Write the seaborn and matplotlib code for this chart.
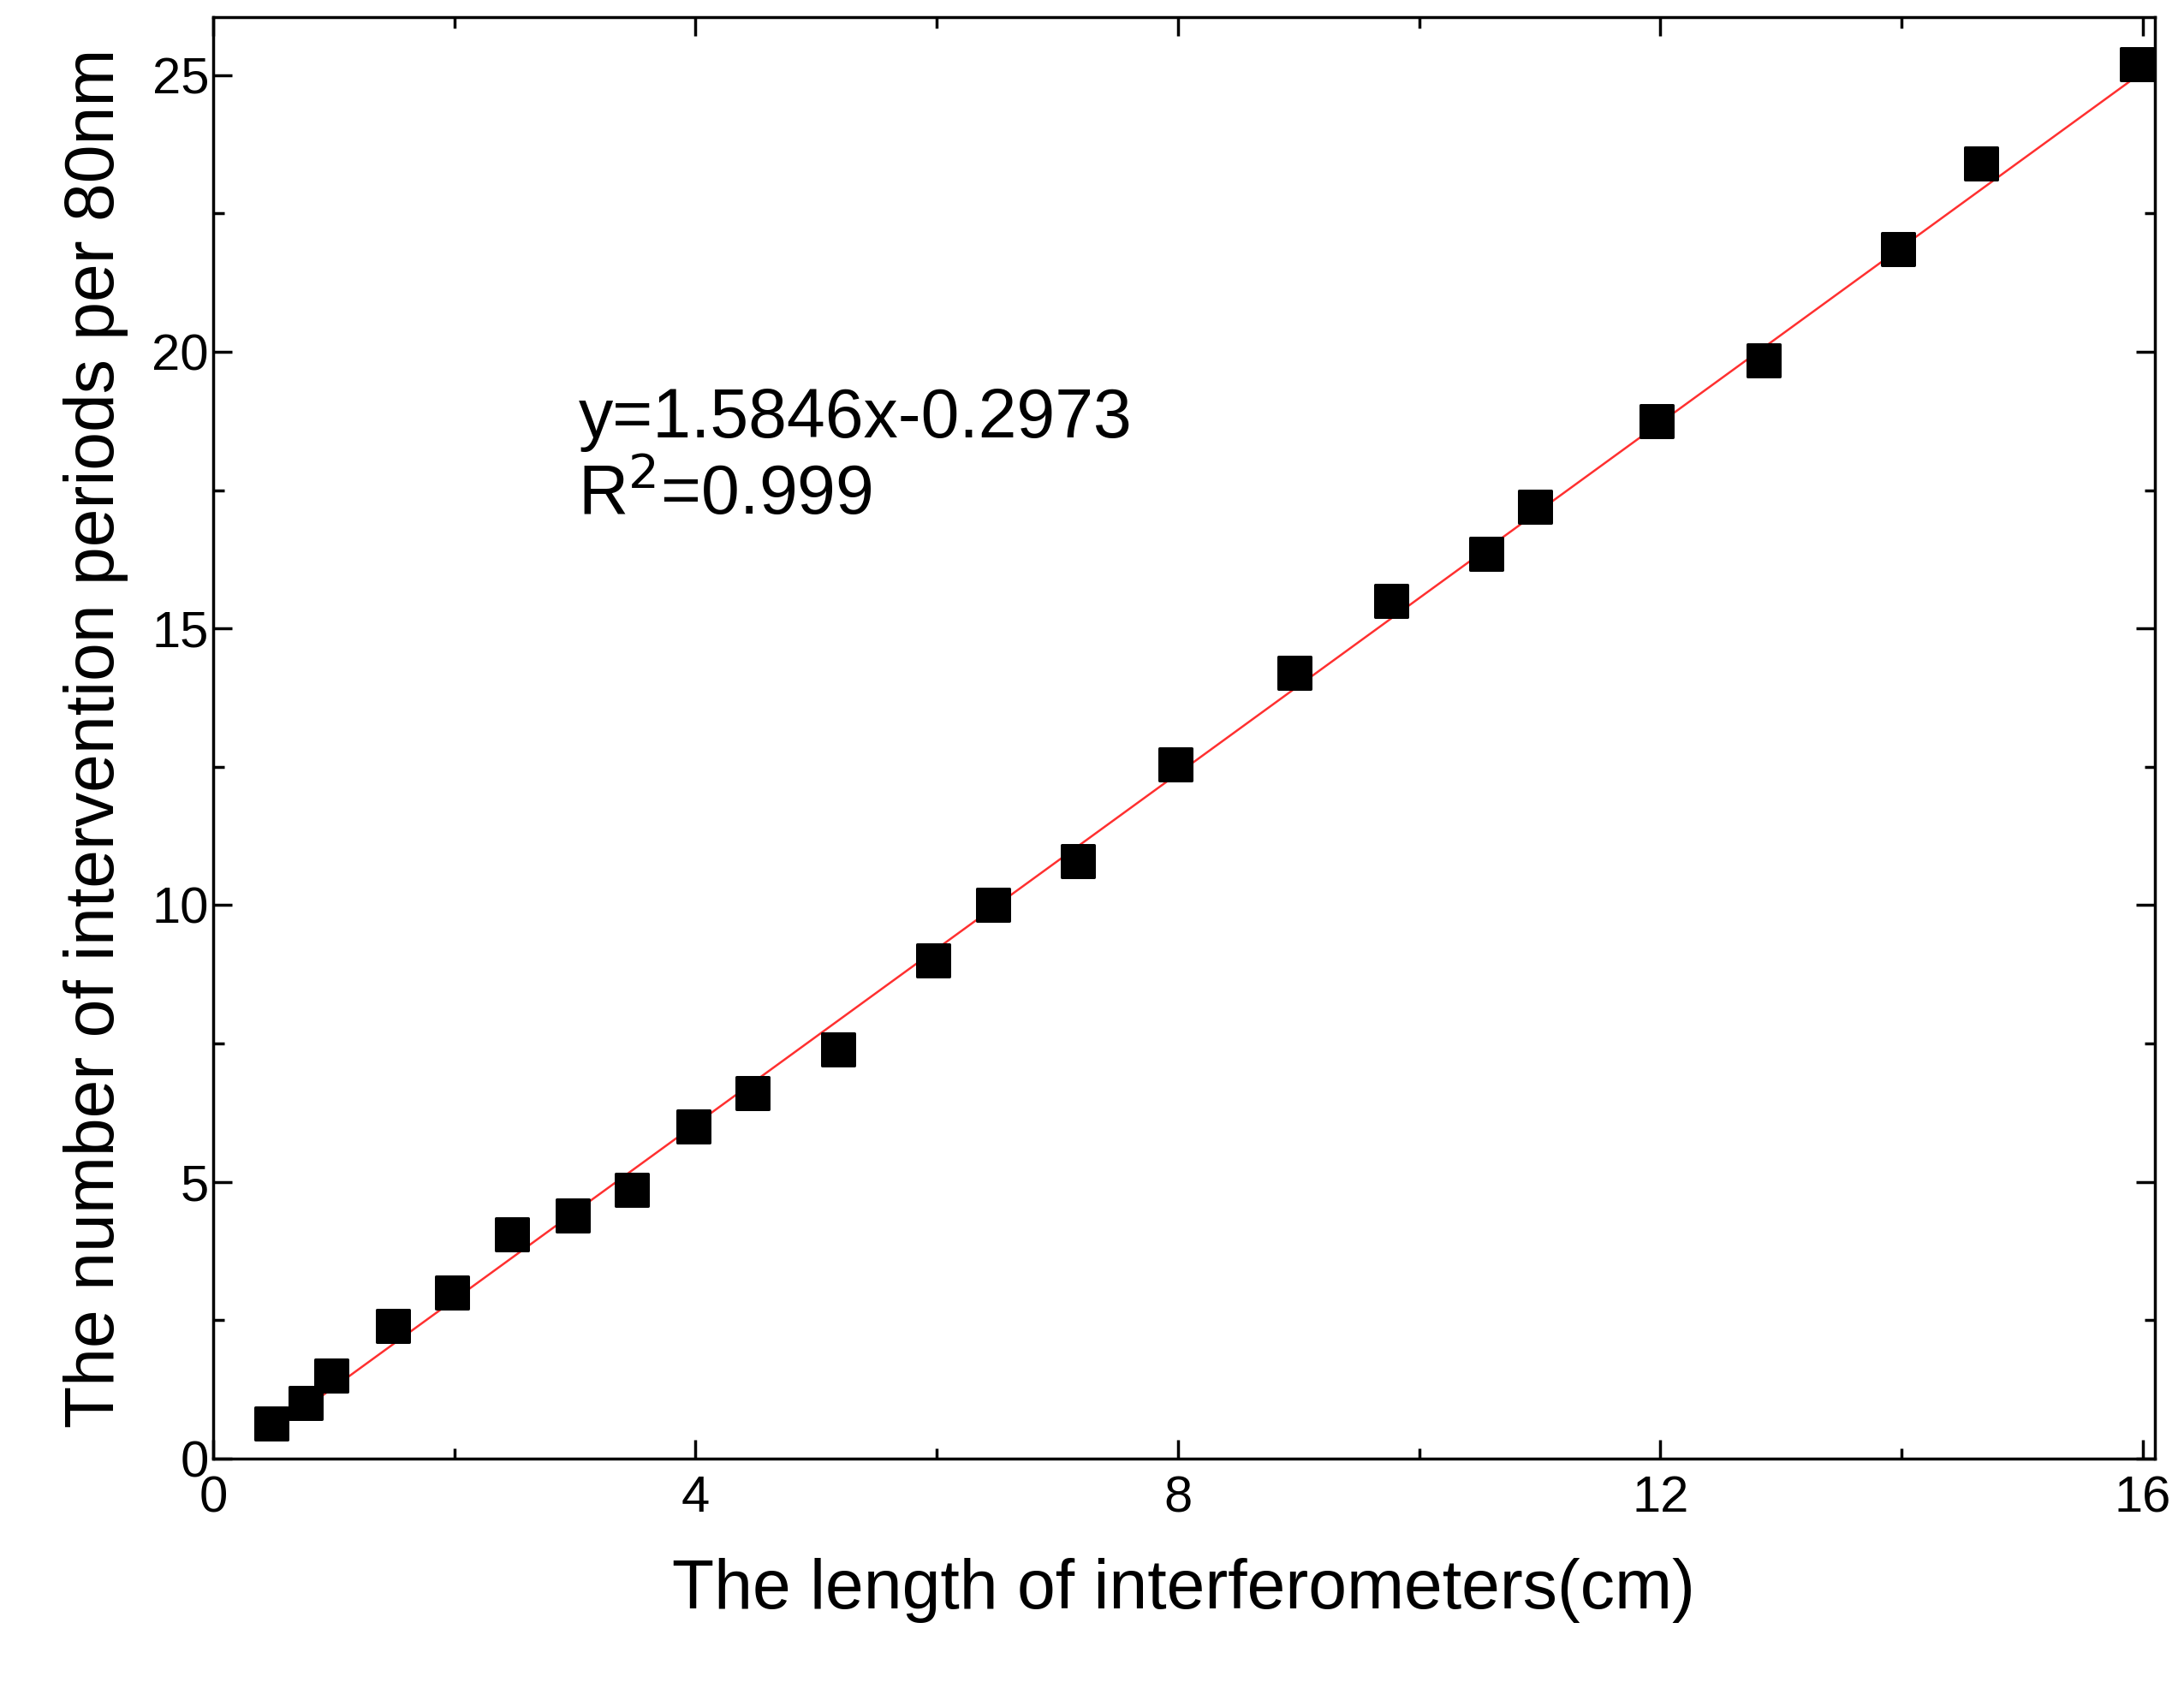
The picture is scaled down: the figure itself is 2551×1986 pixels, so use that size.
import matplotlib
matplotlib.use("Agg")
import matplotlib.pyplot as plt
import seaborn as sns
import numpy as np
import pandas as pd
from matplotlib.ticker import MultipleLocator

length_cm = [0.48, 0.77, 0.98, 1.49, 1.98, 2.48, 2.98, 3.47, 3.98, 4.47, 5.18, 5.97,
             6.47, 7.17, 7.98, 8.97, 9.77, 10.56, 10.96, 11.97, 12.86, 13.97, 14.66, 15.95]
periods = [0.63, 1.0, 1.5, 2.4, 3.0, 4.05, 4.4, 4.85, 6.0, 6.6, 7.4, 9.0,
           10.0, 10.8, 12.55, 14.2, 15.5, 16.35, 17.2, 18.75, 19.85, 21.85, 23.4, 25.2]
slope, intercept = 1.5846, -0.2973

sns.set_style("ticks")
plt.rcParams['font.family'] = ['Liberation Sans', 'DejaVu Sans']
plt.rcParams['text.color'] = 'black'
plt.rcParams['axes.labelcolor'] = 'black'
plt.rcParams['xtick.color'] = 'black'
plt.rcParams['ytick.color'] = 'black'
plt.rcParams['axes.edgecolor'] = 'black'

fig = plt.figure(figsize=(25.51, 19.86), dpi=100)
ax = fig.add_axes([0.0976, 0.142, 0.889, 0.848])
df = pd.DataFrame({"x": length_cm, "y": periods})
sns.scatterplot(data=df, x="x", y="y", marker="s", s=720, color="black", edgecolor="black", ax=ax, zorder=3)
xl = np.array([length_cm[0], length_cm[-1]])
sns.lineplot(x=xl, y=slope * xl + intercept, color="#ff3030", lw=1.8, ax=ax, zorder=2)

ax.set_xlim(0, 16.1)
ax.set_ylim(0, 26.05)
ax.xaxis.set_major_locator(MultipleLocator(4))
ax.xaxis.set_minor_locator(MultipleLocator(2))
ax.yaxis.set_major_locator(MultipleLocator(5))
ax.yaxis.set_minor_locator(MultipleLocator(2.5))
ax.tick_params(which="both", direction="in", top=True, right=True, width=2.5, labelsize=43)
ax.tick_params(which="major", length=16)
ax.tick_params(which="minor", length=9)
ax.tick_params(axis="x", pad=14)
for s in ax.spines.values():
    s.set_linewidth(2.5)
ax.set_xlabel("The length of interferometers(cm)", fontsize=58, labelpad=30)
ax.set_ylabel("The number of intervention periods per 80nm", fontsize=58, labelpad=20)
ax.text(0.188, 0.645, "y=1.5846x-0.2973\nR$^2$=0.999", transform=ax.transAxes,
        fontsize=58, va="bottom", ha="left", linespacing=1.2)
fig.savefig("out.png", dpi=100)
